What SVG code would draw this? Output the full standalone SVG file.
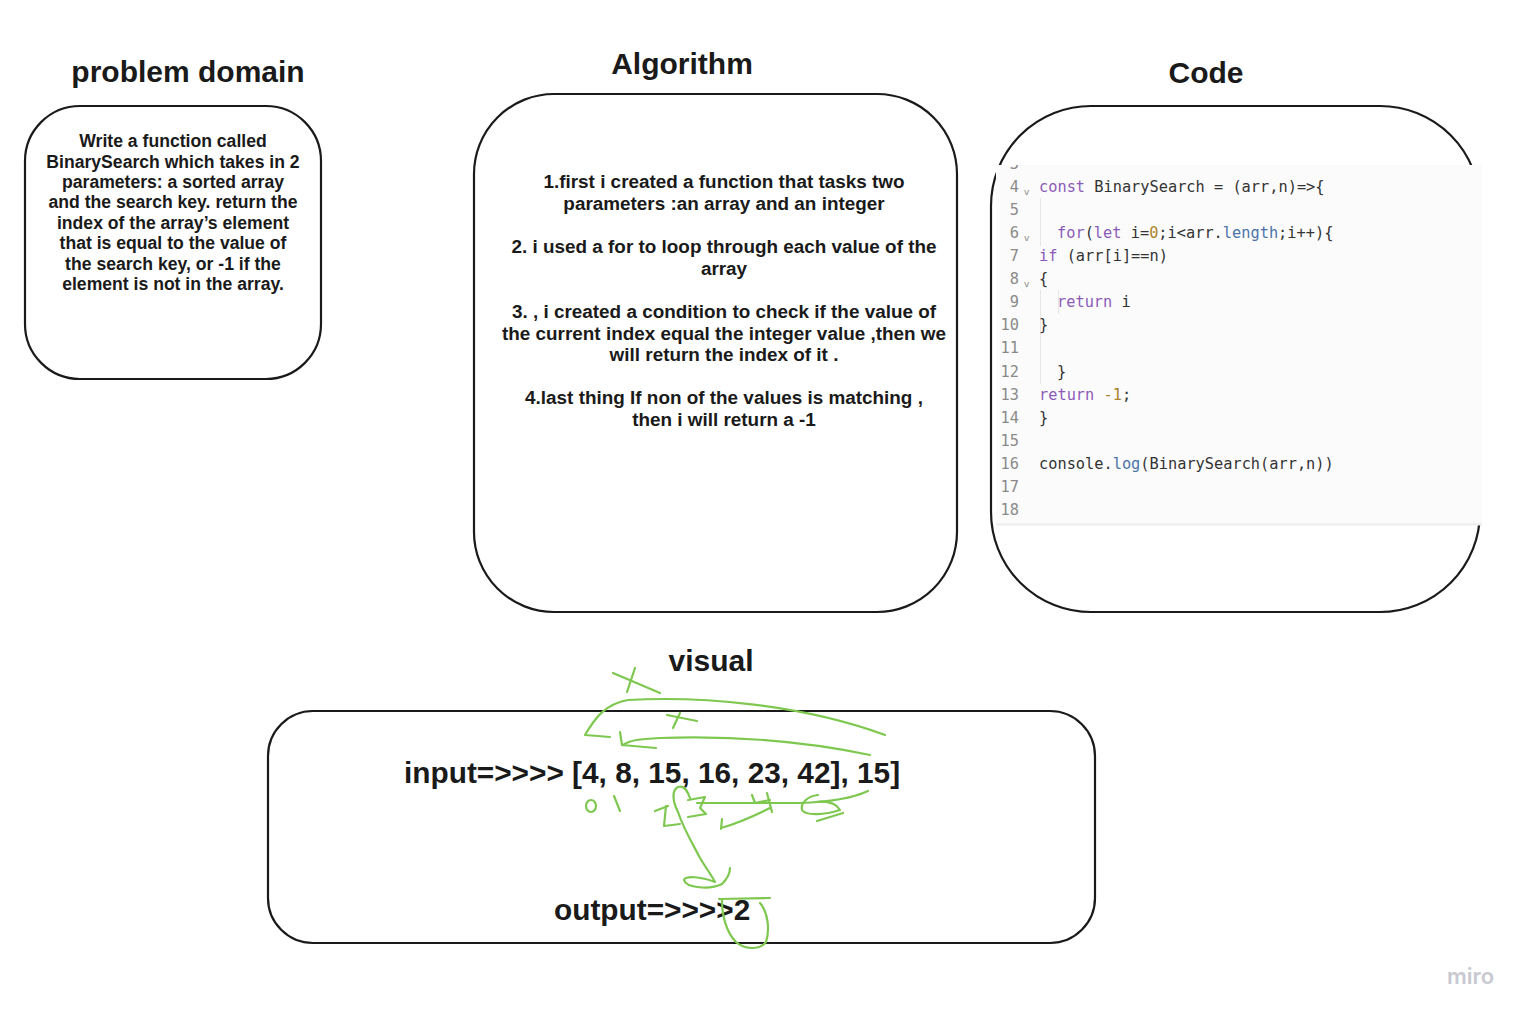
<svg xmlns="http://www.w3.org/2000/svg" width="1531" height="1020" viewBox="0 0 1531 1020">
<style>
.box{fill:#fff;stroke:#1a1a1a;stroke-width:2.2}
.title{font-family:"Liberation Sans",Arial,sans-serif;font-weight:bold;font-size:30px;fill:#1a1a1a;text-anchor:middle}
.pd{font-family:"Liberation Sans",Arial,sans-serif;font-weight:bold;font-size:17.6px;fill:#1a1a1a;text-anchor:middle}
.al{font-family:"Liberation Sans",Arial,sans-serif;font-weight:bold;font-size:18.9px;fill:#1a1a1a;text-anchor:middle}
.vis{font-family:"Liberation Sans",Arial,sans-serif;font-weight:bold;font-size:29.8px;fill:#1a1a1a}
.code{font-family:"DejaVu Sans Mono","Liberation Mono",monospace;font-size:15.3px;fill:#333}
.ln{font-family:"DejaVu Sans Mono","Liberation Mono",monospace;font-size:15.3px;fill:#8a8a8a;text-anchor:end}
.fold{font-family:"DejaVu Sans",sans-serif;font-size:9px;fill:#8a8a8a}
.kw{fill:#8c5bb8}
.num{fill:#a8842a}
.fn{fill:#4a73a8}
.ink{fill:none;stroke:#7ec850;stroke-width:2.2;stroke-linecap:round;stroke-linejoin:round}
</style>
<defs>
<clipPath id="panel"><rect x="996" y="165" width="486" height="360"/></clipPath>
</defs>
<rect width="1531" height="1020" fill="#fff"/>

<g id="problem-domain">
<text class="title" x="188" y="82">problem domain</text>
<rect class="box" x="25" y="106" width="296" height="273" rx="55"/>
<text class="pd" x="173" y="147">Write a function called</text>
<text class="pd" x="173" y="168">BinarySearch which takes in 2</text>
<text class="pd" x="173" y="188">parameters: a sorted array</text>
<text class="pd" x="173" y="208">and the search key. return the</text>
<text class="pd" x="173" y="229">index of the array’s element</text>
<text class="pd" x="173" y="249">that is equal to the value of</text>
<text class="pd" x="173" y="270">the search key, or -1 if the</text>
<text class="pd" x="173" y="290">element is not in the array.</text>
</g>

<g id="algorithm">
<text class="title" x="682" y="74">Algorithm</text>
<rect class="box" x="474" y="94" width="483" height="518" rx="80"/>
<text class="al" x="724" y="188">1.first i created a function that tasks two</text>
<text class="al" x="724" y="210">parameters :an array and an integer</text>
<text class="al" x="724" y="253">2. i used a for to loop through each value of the</text>
<text class="al" x="724" y="275">array</text>
<text class="al" x="724" y="318">3. , i created a condition to check if the value of</text>
<text class="al" x="724" y="340">the current index equal the integer value ,then we</text>
<text class="al" x="724" y="361">will return the index of it .</text>
<text class="al" x="724" y="404">4.last thing If non of the values is  matching ,</text>
<text class="al" x="724" y="426">then i will return a -1</text>
</g>

<g id="code">
<text class="title" x="1206" y="83">Code</text>
<rect class="box" x="991" y="106" width="489" height="506" rx="100"/>
<rect x="996" y="165" width="486" height="360" fill="#fbfbfb"/>
<line x1="996" y1="524.5" x2="1482" y2="524.5" stroke="#ececef" stroke-width="2"/>
<g stroke="#e6e6e6" stroke-width="1">
<line x1="1040.5" y1="198" x2="1040.5" y2="246"/>
<line x1="1040.5" y1="290" x2="1040.5" y2="384"/>
<line x1="1058.5" y1="290" x2="1058.5" y2="314"/>
</g>
<g clip-path="url(#panel)">
<text class="ln" x="1019" y="169">3</text>
</g>
<text class="ln" x="1019" y="192">4</text>
<text class="ln" x="1019" y="215">5</text>
<text class="ln" x="1019" y="238">6</text>
<text class="ln" x="1019" y="261">7</text>
<text class="ln" x="1019" y="284">8</text>
<text class="ln" x="1019" y="307">9</text>
<text class="ln" x="1019" y="330">10</text>
<text class="ln" x="1019" y="353">11</text>
<text class="ln" x="1019" y="377">12</text>
<text class="ln" x="1019" y="400">13</text>
<text class="ln" x="1019" y="423">14</text>
<text class="ln" x="1019" y="446">15</text>
<text class="ln" x="1019" y="469">16</text>
<text class="ln" x="1019" y="492">17</text>
<text class="ln" x="1019" y="515">18</text>
<text class="fold" x="1024" y="195">v</text>
<text class="fold" x="1024" y="241">v</text>
<text class="fold" x="1024" y="287">v</text>
<text class="code" x="1039" y="192"><tspan class="kw">const</tspan> BinarySearch = (arr,n)=&gt;{</text>
<text class="code" x="1057" y="238"><tspan class="kw">for</tspan>(<tspan class="kw">let</tspan> i=<tspan class="num">0</tspan>;i&lt;arr.<tspan class="fn">length</tspan>;i++){</text>
<text class="code" x="1039" y="261"><tspan class="kw">if</tspan> (arr[i]==n)</text>
<text class="code" x="1039" y="284">{</text>
<text class="code" x="1057" y="307"><tspan class="kw">return</tspan> i</text>
<text class="code" x="1039" y="330">}</text>
<text class="code" x="1057" y="377">}</text>
<text class="code" x="1039" y="400"><tspan class="kw">return</tspan> <tspan class="num">-1</tspan>;</text>
<text class="code" x="1039" y="423">}</text>
<text class="code" x="1039" y="469">console.<tspan class="fn">log</tspan>(BinarySearch(arr,n))</text>
</g>

<g id="visual">
<text class="title" x="711" y="671">visual</text>
<rect class="box" x="268" y="711" width="827" height="232" rx="45"/>
<text class="vis" x="404" y="783">input=&gt;&gt;&gt;&gt; [4, 8, 15, 16, 23, 42], 15]</text>
<text class="vis" x="554" y="920">output=&gt;&gt;&gt;&gt;2</text>
</g>

<g id="annotations">
<path class="ink" d="M613 673 L660 693"/>
<path class="ink" d="M635 668 L627 692"/>
<path class="ink" d="M610 737 L585 735 C595 718 605 704 628 700 C700 696 800 704 885 735"/>
<path class="ink" d="M667 715 L697 721"/>
<path class="ink" d="M680 713 L673 728"/>
<path class="ink" d="M620 732 L622 745 L656 748"/>
<path class="ink" d="M623 745 C630 740 640 739 660 738 C720 736 790 738 870 755"/>
<ellipse class="ink" cx="591" cy="806" rx="5" ry="6"/>
<path class="ink" d="M614 796 L620 811"/>
<path class="ink" d="M655 811 L668 806 M666 806 L664 826 L680 824"/>
<path class="ink" d="M678 812 C672 800 672 790 678 787 C684 785 688 792 690 798 M678 812 C684 830 695 848 700 858 C706 868 712 876 715 882 C700 876 685 876 684 880 C686 888 710 890 722 884 C728 878 730 872 730 868"/>
<path class="ink" d="M688 800 L705 797 L700 808 L706 814 L688 817"/>
<path class="ink" d="M697 803 L800 803 C830 802 855 797 868 791"/>
<path class="ink" d="M752 795 L755 803 L770 800 M767 793 L772 812"/>
<path class="ink" d="M721 829 L722 819 M721 828 C735 824 750 818 770 808"/>
<path class="ink" d="M818 795 C808 796 800 803 802 810 C806 816 825 815 840 810 C836 803 826 801 816 802 M817 821 L843 813"/>
<path class="ink" d="M719 899 L770 898 M760 903 C768 912 770 930 766 942 C760 950 745 950 736 942 C726 932 722 915 722 900"/>
</g>

<text x="1447" y="984" font-family="Inter,'Noto Sans',sans-serif" font-size="22" font-weight="600" fill="#c9c9d2">miro</text>
</svg>
